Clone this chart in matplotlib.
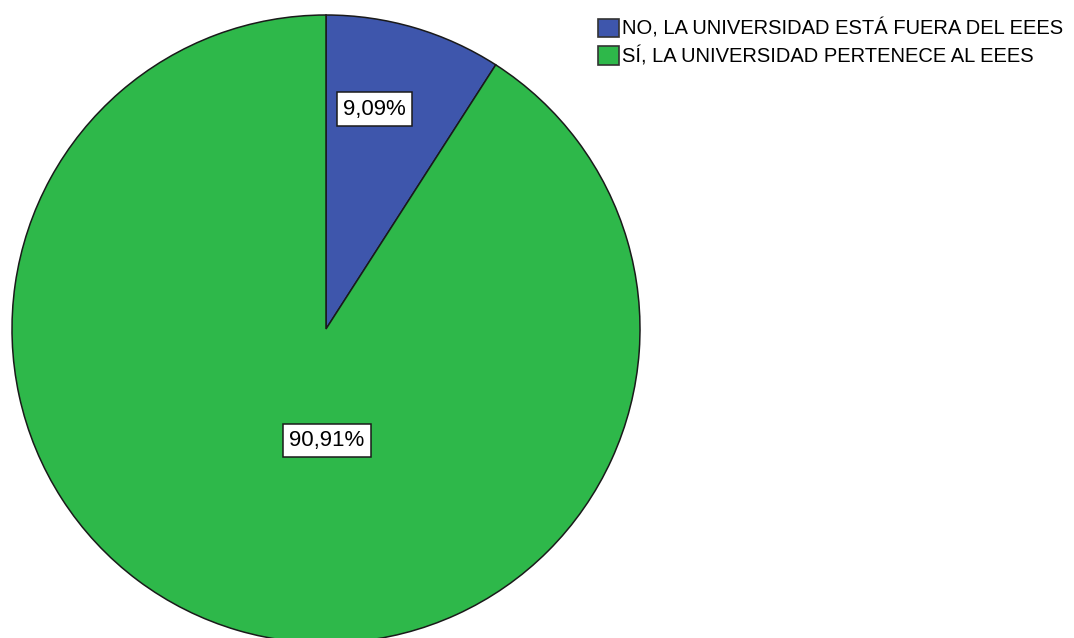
import matplotlib.pyplot as plt
from matplotlib.patches import Patch

categorias = ['NO, LA UNIVERSIDAD ESTÁ FUERA DEL EEES', 'SÍ, LA UNIVERSIDAD PERTENECE AL EEES']
porcentajes = [9.09, 90.91]
etiquetas = ['9,09%', '90,91%']
colores = ['#3E56AC', '#2EB84A']

plt.rcParams['font.family'] = ['Liberation Sans', 'DejaVu Sans']

fig = plt.figure(figsize=(10.74, 6.38), dpi=100)
ax = fig.add_axes([0, 0, 1, 1])

cx, cy, r = 326, 309, 314
cunas, _ = ax.pie(porcentajes, colors=colores, startangle=90, counterclock=False,
                  center=(cx, cy), radius=r, frame=True,
                  wedgeprops={'edgecolor': '#1a1a1a', 'linewidth': 1.1})
ax.set_xlim(0, 1074)
ax.set_ylim(0, 638)
ax.set_aspect('equal')
ax.axis('off')

# posiciones de las etiquetas como fracciones del radio
pos = [(0.155, 0.70), (0.003, -0.355)]
for (fx, fy), txt in zip(pos, etiquetas):
    ax.text(cx + fx * r, cy + fy * r, txt, ha='center', va='center', fontsize=16,
            bbox=dict(boxstyle='square,pad=0.28', facecolor='white', edgecolor='#1a1a1a', linewidth=1.1))

handles = [Patch(facecolor=c, edgecolor='#333333', linewidth=1.2) for c in colores]
fig.legend(handles, categorias, loc='upper left', bbox_to_anchor=(0.5568, 0.9703),
           frameon=False, fontsize=14.5, handlelength=1.05, handleheight=1.0,
           handletextpad=0.15, labelspacing=0.37, borderaxespad=0, borderpad=0)

fig.savefig('out.png', dpi=100)
